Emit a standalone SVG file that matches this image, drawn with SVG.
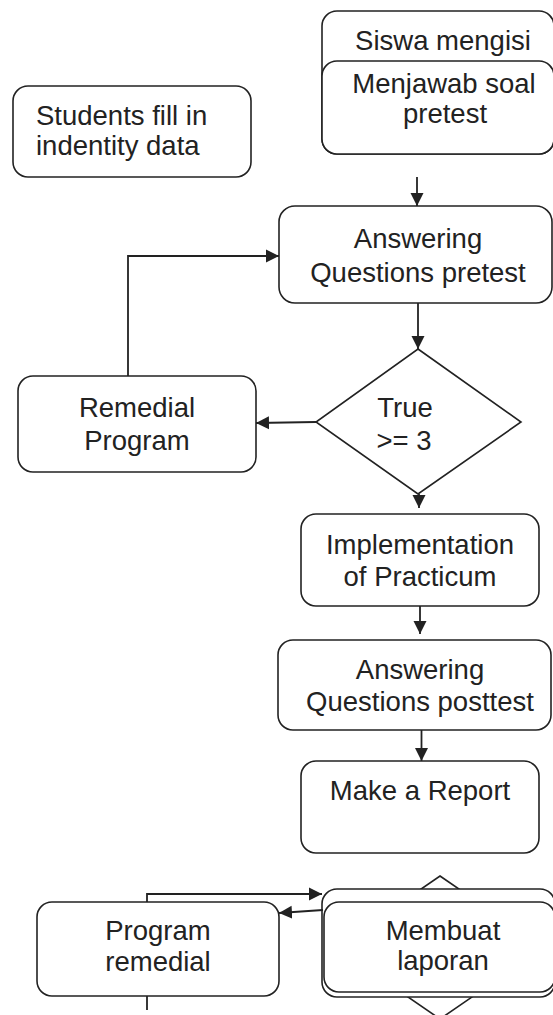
<svg xmlns="http://www.w3.org/2000/svg" width="553" height="1015" viewBox="0 0 553 1015">
<style>
.box{fill:#fff;stroke:#222;stroke-width:1.6}
.dia{fill:#fff;stroke:#222;stroke-width:1.6}
.t{font-family:"Liberation Sans",Arial,sans-serif;font-size:27.5px;fill:#222;text-anchor:middle}
.c{fill:none;stroke:#222;stroke-width:1.8}
</style>
<defs>
<marker id="ah" markerUnits="userSpaceOnUse" markerWidth="14" markerHeight="14" viewBox="0 0 14 14" refX="13" refY="7" orient="auto">
<path d="M0,0.5 L13,7 L0,13.5 Z" fill="#222"/>
</marker>
</defs>
<rect width="553" height="1015" fill="#fff"/>

<g id="siswa-mengisi">
<rect class="box" x="322" y="11" width="232" height="143" rx="15"/>
<text class="t" x="443" y="50">Siswa mengisi</text>
</g>
<g id="menjawab-soal">
<rect class="box" x="322" y="61" width="232" height="93" rx="15"/>
<text class="t" x="444" y="93">Menjawab soal</text>
<text class="t" x="445" y="123">pretest</text>
</g>
<g id="students-fill">
<rect class="box" x="13" y="86" width="238" height="91" rx="15"/>
<text class="t" x="36" y="125" style="text-anchor:start">Students fill in</text>
<text class="t" x="36" y="155" style="text-anchor:start">indentity data</text>
</g>
<g id="answering-pretest">
<rect class="box" x="279" y="206" width="273" height="97" rx="16"/>
<text class="t" x="418" y="248">Answering</text>
<text class="t" x="418" y="282">Questions pretest</text>
</g>
<g id="decision">
<polygon class="dia" points="418,349 521,422 418,494 316,422"/>
<text class="t" x="405" y="417">True</text>
<text class="t" x="404" y="450">&gt;= 3</text>
</g>
<g id="remedial-program">
<rect class="box" x="18" y="376" width="238" height="96" rx="15"/>
<text class="t" x="137" y="417">Remedial</text>
<text class="t" x="137" y="450">Program</text>
</g>
<g id="implementation">
<rect class="box" x="301" y="514" width="238" height="92" rx="15"/>
<text class="t" x="420" y="554">Implementation</text>
<text class="t" x="420" y="586">of Practicum</text>
</g>
<g id="answering-posttest">
<rect class="box" x="278" y="640" width="273" height="90" rx="15"/>
<text class="t" x="420" y="679">Answering</text>
<text class="t" x="420" y="711">Questions posttest</text>
</g>
<g id="make-report">
<rect class="box" x="301" y="761" width="238" height="92" rx="15"/>
<text class="t" x="420" y="800">Make a Report</text>
</g>
<g id="decision-2">
<polygon class="dia" points="440,876 544,947.5 440,1019 336,947.5"/>
</g>
<g id="membuat-laporan">
<rect class="box" x="322" y="889" width="233" height="108" rx="15"/>
<rect class="box" x="324" y="902" width="231" height="90" rx="15"/>
<text class="t" x="443" y="940">Membuat</text>
<text class="t" x="443" y="970">laporan</text>
</g>
<g id="program-remedial">
<rect class="box" x="37" y="902" width="242" height="94" rx="15"/>
<text class="t" x="158" y="940">Program</text>
<text class="t" x="158" y="971">remedial</text>
</g>

<g id="connectors">
<path class="c" d="M417,177 V206" marker-end="url(#ah)"/>
<path class="c" d="M418,303 V349" marker-end="url(#ah)"/>
<path class="c" d="M128,376 V256 H279" marker-end="url(#ah)"/>
<path class="c" d="M316,422 L256,423" marker-end="url(#ah)"/>
<path class="c" d="M419,494 V508" marker-end="url(#ah)"/>
<path class="c" d="M420,606 V634" marker-end="url(#ah)"/>
<path class="c" d="M421.5,730 V761" marker-end="url(#ah)"/>
<path class="c" d="M147,902 V894 H322" marker-end="url(#ah)"/>
<path class="c" d="M323,910 L279,913" marker-end="url(#ah)"/>
<path class="c" d="M147,996 V1010"/>
</g>
</svg>
